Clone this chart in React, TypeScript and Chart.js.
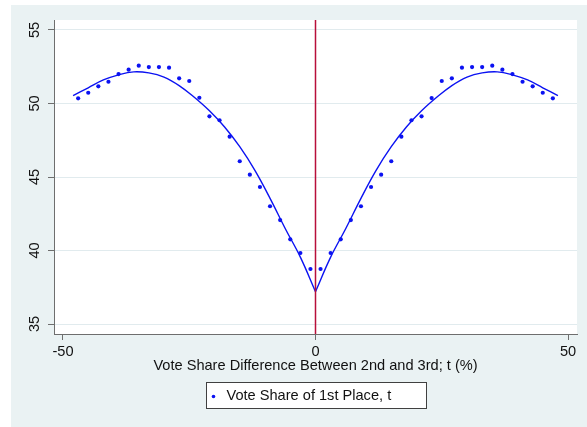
import { useEffect, useRef } from "react";
import { Chart, registerables } from "chart.js";

Chart.register(...registerables);

// Binned means: vote share of the first-placed candidate by t
const pointX = [
  -47, -45, -43, -41, -39, -37, -35, -33, -31, -29, -27, -25,
  -23, -21, -19, -17, -15, -13, -11, -9, -7, -5, -3, -1,
  1, 3, 5, 7, 9, 11, 13, 15, 17, 19, 21, 23,
  25, 27, 29, 31, 33, 35, 37, 39, 41, 43, 45, 47,
];
const pointY = [
  50.35, 50.73, 51.17, 51.48, 52.0, 52.3, 52.57, 52.48, 52.48, 52.44, 51.71, 51.53,
  50.39, 49.13, 48.86, 47.74, 46.07, 45.16, 44.32, 43.01, 42.07, 40.76, 39.83, 38.74,
  38.74, 39.83, 40.76, 42.07, 43.01, 44.32, 45.16, 46.07, 47.74, 48.86, 49.13, 50.37,
  51.53, 51.71, 52.44, 52.48, 52.48, 52.57, 52.3, 52.0, 51.48, 51.17, 50.73, 50.35,
];

// Fitted curves on each side of the cutoff
const fitLeftX = [-48, -45, -42, -39, -36, -33, -30, -27, -24, -21, -18, -15, -12, -9, -6, -3, 0];
const fitLeftY = [50.53, 51.07, 51.6, 51.95, 52.15, 52.08, 51.8, 51.22, 50.42, 49.5, 48.4, 47.06, 45.45, 43.55, 41.5, 39.55, 37.2];
const fitRightX = [0, 3, 6, 9, 12, 15, 18, 21, 24, 27, 30, 33, 36, 39, 42, 45, 48];
const fitRightY = [37.2, 39.55, 41.5, 43.55, 45.45, 47.06, 48.4, 49.5, 50.42, 51.22, 51.8, 52.08, 52.15, 51.95, 51.6, 51.07, 50.53];

const xTicks = [-50, 0, 50];
const yTicks = [35, 40, 45, 50, 55];
const xRange = [-51.78, 51.78];
const yRange = [34.32, 55.68];
const cutoffX = 0;

const legendLabel = "Vote Share of 1st Place, t";
const xTitle = "Vote Share Difference Between 2nd and 3rd; t (%)";

const FONT = "'Liberation Sans', Arial, Helvetica, sans-serif";
const FONT_SIZE = 14.6;
const PANEL = "#eaf2f3";
const GRID = "#e1ebee";
const AXIS = "#6e6e6e";
const BLUE = "#0b12f2";
const RED = "#b80f3a";

const backgroundPlugin = {
  id: "panels",
  beforeDraw(chart: any) {
    const { ctx, width, height, chartArea } = chart;
    ctx.save();
    ctx.fillStyle = "#ffffff";
    ctx.fillRect(0, 0, width, height);
    ctx.fillStyle = PANEL;
    ctx.fillRect(11, 5, width - 11, height - 5);
    ctx.fillStyle = "#ffffff";
    ctx.fillRect(
      chartArea.left,
      chartArea.top,
      chartArea.right - chartArea.left,
      chartArea.bottom - chartArea.top
    );
    ctx.restore();
  },
};

const cutoffPlugin = {
  id: "cutoff",
  afterDatasetsDraw(chart: any) {
    const { ctx, chartArea, scales } = chart;
    const px = scales.x.getPixelForValue(cutoffX);
    ctx.save();
    ctx.strokeStyle = RED;
    ctx.lineWidth = 1.5;
    ctx.beginPath();
    ctx.moveTo(px, chartArea.top);
    ctx.lineTo(px, chartArea.bottom);
    ctx.stroke();
    ctx.restore();
  },
};

const legendBoxPlugin = {
  id: "legendBox",
  afterDraw(chart: any) {
    const { ctx, chartArea } = chart;
    const label = chart.data.datasets[0].label as string;
    ctx.save();
    ctx.font = `${FONT_SIZE}px ${FONT}`;
    const tw = ctx.measureText(label).width;
    const w = Math.round(tw + 55);
    const h = 26;
    const cx = (chartArea.left + chartArea.right) / 2;
    const left = Math.round(cx - w / 2) + 0.5;
    const top = 382.5;
    ctx.fillStyle = "#ffffff";
    ctx.fillRect(left, top, w, h);
    ctx.strokeStyle = "#404040";
    ctx.lineWidth = 1;
    ctx.strokeRect(left, top, w, h);
    ctx.fillStyle = BLUE;
    ctx.beginPath();
    ctx.arc(left + 7, top + h / 2 + 1, 1.8, 0, Math.PI * 2);
    ctx.fill();
    ctx.fillStyle = "#111111";
    ctx.textBaseline = "middle";
    ctx.textAlign = "left";
    ctx.fillText(label, left + 20, top + h / 2);
    ctx.restore();
  },
};

export default function App() {
  const canvasRef = useRef<HTMLCanvasElement | null>(null);

  useEffect(() => {
    if (!canvasRef.current) return;
    const chart = new Chart(canvasRef.current, {
      type: "scatter",
      data: {
        datasets: [
          {
            label: legendLabel,
            data: pointX.map((x, i) => ({ x, y: pointY[i] })),
            showLine: false,
            pointRadius: 2.1,
            pointBorderWidth: 0,
            pointBackgroundColor: BLUE,
            backgroundColor: BLUE,
            order: 0,
          },
          {
            label: "fit left",
            data: fitLeftX.map((x, i) => ({ x, y: fitLeftY[i] })),
            showLine: true,
            pointRadius: 0,
            borderColor: BLUE,
            borderWidth: 1.4,
            tension: 0.4,
            order: 1,
          },
          {
            label: "fit right",
            data: fitRightX.map((x, i) => ({ x, y: fitRightY[i] })),
            showLine: true,
            pointRadius: 0,
            borderColor: BLUE,
            borderWidth: 1.4,
            tension: 0.4,
            order: 1,
          },
        ],
      },
      options: {
        responsive: false,
        animation: false,
        events: [],
        layout: { padding: { left: 0, top: 20, right: 10, bottom: 0 } },
        plugins: {
          legend: { display: false },
          tooltip: { enabled: false },
        },
        scales: {
          x: {
            type: "linear",
            min: xRange[0],
            max: xRange[1],
            afterBuildTicks: (s: any) => {
              s.ticks = xTicks.map((v) => ({ value: v }));
            },
            afterFit: (s: any) => {
              s.height = 93;
            },
            grid: {
              drawOnChartArea: false,
              drawTicks: true,
              tickLength: 6,
              tickColor: AXIS,
            },
            border: { display: true, color: AXIS, width: 1 },
            ticks: {
              font: { family: FONT, size: FONT_SIZE },
              color: "#111111",
              padding: 3,
              maxRotation: 0,
              callback: (v: any) => String(v),
            },
            title: {
              display: true,
              text: xTitle,
              font: { family: FONT, size: FONT_SIZE },
              color: "#111111",
              padding: { top: 0, bottom: 52 },
            },
          },
          y: {
            type: "linear",
            min: yRange[0],
            max: yRange[1],
            afterBuildTicks: (s: any) => {
              s.ticks = yTicks.map((v) => ({ value: v }));
            },
            afterFit: (s: any) => {
              s.width = 54;
            },
            grid: {
              color: GRID,
              lineWidth: 1,
              drawTicks: true,
              tickLength: 6,
              tickColor: AXIS,
            },
            border: { display: true, color: AXIS, width: 1 },
            ticks: {
              font: { family: FONT, size: FONT_SIZE },
              color: "#111111",
              padding: 5,
              minRotation: 90,
              maxRotation: 90,
              crossAlign: "center",
              callback: (v: any) => String(v),
            },
          },
        },
      },
      plugins: [backgroundPlugin, cutoffPlugin, legendBoxPlugin],
    } as any);
    return () => chart.destroy();
  }, []);

  return (
    <div style={{ position: "absolute", left: 0, top: 0, width: 587, height: 427 }}>
      <canvas ref={canvasRef} width={587} height={427} style={{ display: "block" }} />
    </div>
  );
}
